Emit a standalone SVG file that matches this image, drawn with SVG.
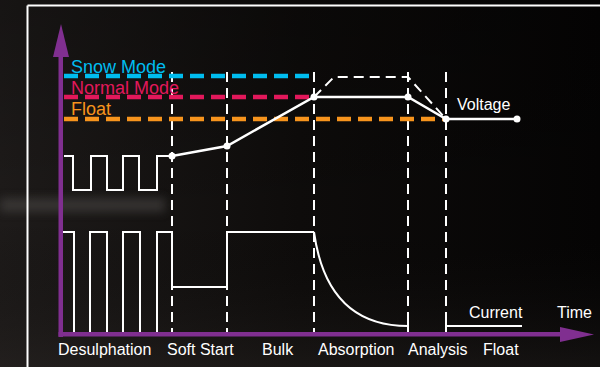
<svg xmlns="http://www.w3.org/2000/svg" width="600" height="367" viewBox="0 0 600 367">
  <defs>
    <linearGradient id="bg" x1="0" y1="0" x2="1" y2="0">
      <stop offset="0" stop-color="#1e1b1a"/>
      <stop offset="0.5" stop-color="#0e0c0b"/>
      <stop offset="1" stop-color="#050404"/>
    </linearGradient>
    <linearGradient id="bgv" x1="0" y1="0" x2="0" y2="1">
      <stop offset="0" stop-color="#000" stop-opacity="0.25"/>
      <stop offset="0.6" stop-color="#000" stop-opacity="0"/>
      <stop offset="1" stop-color="#2a2624" stop-opacity="0.4"/>
    </linearGradient>
    <filter id="blur" x="-20%" y="-100%" width="140%" height="300%">
      <feGaussianBlur stdDeviation="5"/>
    </filter>
    <style>
      .lbl { font-family: "Liberation Sans", Arial, sans-serif; font-size: 16px; fill: #ffffff; }
      .mode { font-family: "Liberation Sans", Arial, sans-serif; font-size: 18px; }
      .vdash { stroke: #ffffff; stroke-width: 2; stroke-dasharray: 10 6; fill: none; }
      .hdash { stroke-width: 4.5; stroke-dasharray: 14 7; fill: none; }
      .wave { stroke: #ffffff; stroke-width: 2; fill: none; }
      .volt { stroke: #ffffff; stroke-width: 2.5; fill: none; }
      .dot { fill: #ffffff; }
      .axis { fill: #802f90; }
    </style>
  </defs>

  <!-- background -->
  <rect x="0" y="0" width="600" height="367" fill="url(#bg)"/>
  <rect x="0" y="0" width="600" height="367" fill="url(#bgv)"/>
  <rect x="0" y="198" width="165" height="14" fill="#4a4745" opacity="0.6" filter="url(#blur)"/>

  <!-- frame -->
  <g id="frame">
    <line x1="27.5" y1="5.5" x2="600" y2="5.5" stroke="#ffffff" stroke-width="2"/>
    <line x1="27.5" y1="5.5" x2="27.5" y2="367" stroke="#ffffff" stroke-width="2"/>
  </g>

  <!-- phase boundaries -->
  <g id="phase-lines">
    <line class="vdash" x1="172" y1="72" x2="172" y2="333"/>
    <line class="vdash" x1="227" y1="72" x2="227" y2="333"/>
    <line class="vdash" x1="314" y1="72" x2="314" y2="333"/>
    <line class="vdash" x1="408" y1="72" x2="408" y2="333"/>
    <line class="vdash" x1="446" y1="72" x2="446" y2="333"/>
  </g>

  <!-- mode levels -->
  <g id="mode-levels">
    <line class="hdash" x1="64" y1="76" x2="314" y2="76" stroke="#00bdf0"/>
    <line class="hdash" x1="64" y1="97" x2="314" y2="97" stroke="#e2185b"/>
    <line class="hdash" x1="64" y1="119" x2="446" y2="119" stroke="#f7941d"/>
    <text class="mode" x="71" y="73" fill="#00bdf0">Snow Mode</text>
    <text class="mode" x="71" y="94" fill="#e2185b">Normal Mode</text>
    <text class="mode" x="71" y="115" fill="#f7941d">Float</text>
  </g>

  <!-- voltage curve -->
  <g id="voltage">
    <polyline class="wave" points="64,156 73,156 73,190 91,190 91,156 107,156 107,190 123,190 123,156 139,156 139,190 157,190 157,156 172,156"/>
    <polyline class="volt" points="172,156 227,146 314,97 408,97 446,119 517,119"/>
    <polyline class="vdash" points="314,97 334,77 408,77 446,119"/>
    <circle class="dot" cx="172" cy="156" r="3.5"/>
    <circle class="dot" cx="227" cy="146" r="3.5"/>
    <circle class="dot" cx="314" cy="97" r="3.5"/>
    <circle class="dot" cx="408" cy="97" r="3.5"/>
    <circle class="dot" cx="446" cy="119" r="3.5"/>
    <circle class="dot" cx="517" cy="119" r="3.5"/>
    <text class="lbl" x="457" y="110">Voltage</text>
  </g>

  <!-- current curve -->
  <g id="current">
    <polyline class="wave" points="63,232 74,232 74,333 90,333 90,232 107,232 107,333 123,333 123,232 140,232 140,333 157,333 157,232 172,232 172,287 227,287 227,232 314,232"/>
    <path class="wave" d="M314,232 C322,290 350,326 408,326"/>
    <line class="wave" x1="408" y1="321" x2="408" y2="331"/>
    <line class="wave" x1="446" y1="326" x2="522" y2="326"/>
    <line class="wave" x1="446" y1="318" x2="446" y2="334"/>
    <text class="lbl" x="469" y="318">Current</text>
  </g>

  <!-- axes -->
  <g id="axes">
    <rect class="axis" x="58.5" y="55" width="4.5" height="282"/>
    <polygon class="axis" points="61,24 69,57 53,57"/>
    <rect class="axis" x="58.5" y="332" width="503" height="4.5"/>
    <polygon class="axis" points="594,334.5 560,327 560,342"/>
    <text class="lbl" x="557" y="318">Time</text>
  </g>

  <!-- phase labels -->
  <g id="phase-labels">
    <text class="lbl" x="58" y="355">Desulphation</text>
    <text class="lbl" x="167" y="355">Soft Start</text>
    <text class="lbl" x="262" y="355">Bulk</text>
    <text class="lbl" x="318" y="355">Absorption</text>
    <text class="lbl" x="408" y="355">Analysis</text>
    <text class="lbl" x="483" y="355">Float</text>
  </g>
</svg>
